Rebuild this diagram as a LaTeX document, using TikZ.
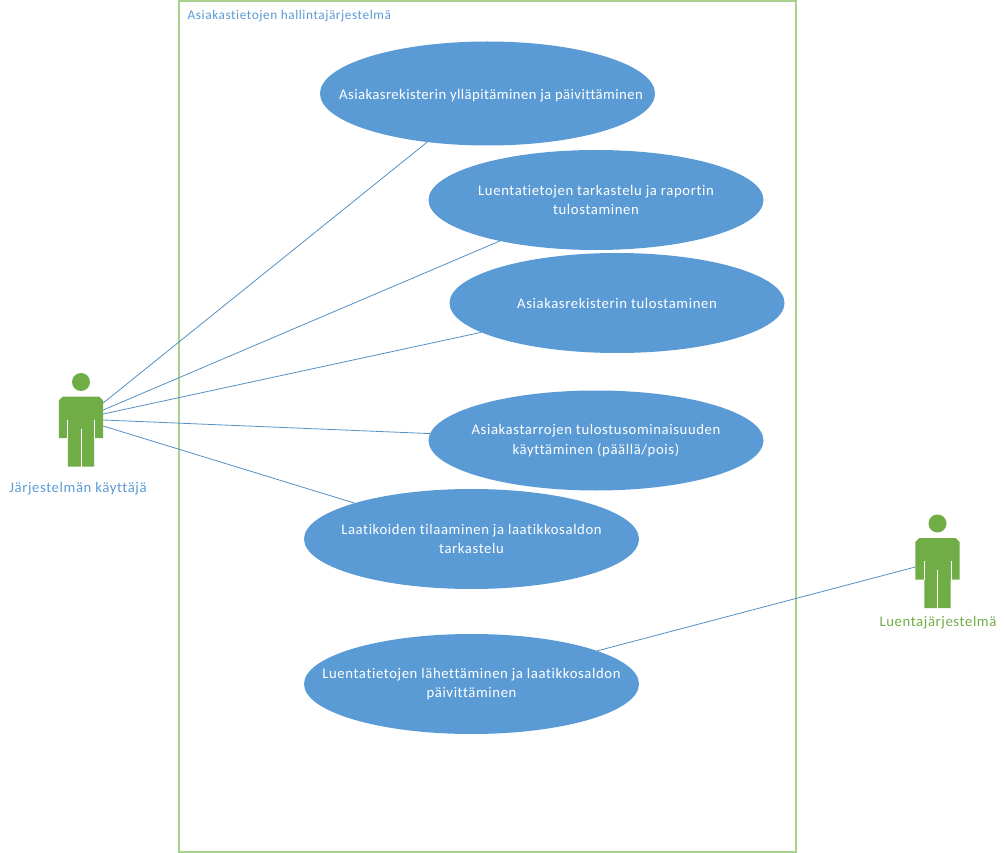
\documentclass[tikz,border=0pt]{standalone}
\usepackage{fontspec}
\setmainfont{Carlito}
\newfontfamily\spaced[LetterSpace=4.2,Ligatures=NoCommon]{Carlito}
\newfontfamily\spacedlow[LetterSpace=3.0,Ligatures=NoCommon]{Carlito}
\usetikzlibrary{shapes.geometric}
\definecolor{ublue}{HTML}{5B9BD5}
\definecolor{uline}{HTML}{5590C5}
\definecolor{ugreen}{HTML}{70AD47}
\definecolor{uframe}{HTML}{A9D18E}
\tikzset{
  uc/.style={ellipse,fill=ublue,draw=none,minimum width=335pt,minimum height=100pt,inner sep=0pt,outer sep=0pt},
  uctext/.style={text=white,align=center,inner sep=0pt,font=\spaced\fontsize{14.7}{19.2}\selectfont},
  assoc/.style={draw=uline,line width=0.8pt},
  actorlabel/.style={font=\spaced\fontsize{14.7}{18}\selectfont,inner sep=0pt},
  sysframe/.style={draw=uframe,line width=1.8pt,fill=none,inner sep=0pt,outer sep=0pt,minimum width=617pt,minimum height=851pt},
  actorbox/.style={draw=none,fill=none,inner sep=0pt,outer sep=0pt,minimum width=44.4pt,minimum height=94pt}
}
\newcommand{\stickman}[3]{% name, x, y of head centre
  \begin{scope}[shift={(#2,#3)}]
    \fill[ugreen] (0,0) circle (9);
    \fill[ugreen] (-18.2,14.5) -- (18.2,14.5) -- (22.2,18.5) -- (22.2,56) -- (13.2,56) -- (13.2,84.5)
      -- (-13.2,84.5) -- (-13.2,56) -- (-22.2,56) -- (-22.2,18.5) -- cycle;
    \draw[white,line width=1pt] (0,46.5) -- (0,85);
    \draw[white,line width=1pt] (-13.5,37.5) -- (-13.5,56.5);
    \draw[white,line width=1pt] (13.5,37.5) -- (13.5,56.5);
    \node[actorbox] (#1) at (0,37.5) {};
  \end{scope}
}
\begin{document}
\begin{tikzpicture}[x=1pt,y=-1pt]
\useasboundingbox (0,0) rectangle (1005,853);
\fill[white] (0,0) rectangle (1005,853);
\node[sysframe] (sys) at (487.5,426.5) {};
\node[anchor=west,inner sep=0pt,text=ublue,font=\spaced\fontsize{13.3}{16}\selectfont] (systitle) at (187.5,15.7) {Asiakastietojen hallintajärjestelmä};

\node[uc,minimum height=104pt] (e1) at (487.5,93.5) {};
\node[uctext,font=\spacedlow\fontsize{14.7}{19.2}\selectfont] (t1) at (491,95.7) {Asiakasrekisterin ylläpitäminen ja päivittäminen};
\node[uc] (e2) at (596,200) {};
\node[uctext] (t2) at (e2) {Luentatietojen tarkastelu ja raportin\\tulostaminen};
\node[uc] (e3) at (617,303) {};
\node[uctext] (t3) at (e3) {Asiakasrekisterin tulostaminen};
\node[uc] (e4) at (596,440.5) {};
\node[uctext] (t4) at (e4) {Asiakastarrojen tulostusominaisuuden\\käyttäminen (päällä/pois)};
\node[uc] (e5) at (471.5,539) {};
\node[uctext] (t5) at (e5) {Laatikoiden tilaaminen ja laatikkosaldon\\tarkastelu};
\node[uc] (e6) at (471.5,684) {};
\node[uctext] (t6) at (e6) {Luentatietojen lähettäminen ja laatikkosaldon\\päivittäminen};

\stickman{user}{81}{382}
\stickman{reader}{937.5}{523.5}

\node[actorlabel,text=ublue] (userlabel) at (78,489) {Järjestelmän käyttäjä};
\node[actorlabel,text=ugreen] (readerlabel) at (938,623) {Luentajärjestelmä};

\path (user.center) ++(22.2,-16.5) coordinate (u1);
\path (user.center) ++(22.2,-9.5) coordinate (u2);
\path (user.center) ++(22.2,-5.5) coordinate (u3);
\path (user.center) ++(22.2,0.5) coordinate (u4);
\path (user.center) ++(22.2,6.5) coordinate (u5);
\path (reader.center) ++(-22.2,6) coordinate (r1);

\draw[assoc] (u1) -- (e1);
\draw[assoc] (u2) -- (e2);
\draw[assoc] (u3) -- (e3);
\draw[assoc] (u4) -- (e4);
\draw[assoc] (u5) -- (e5);
\draw[assoc] (r1) -- (e6);
\end{tikzpicture}
\end{document}
